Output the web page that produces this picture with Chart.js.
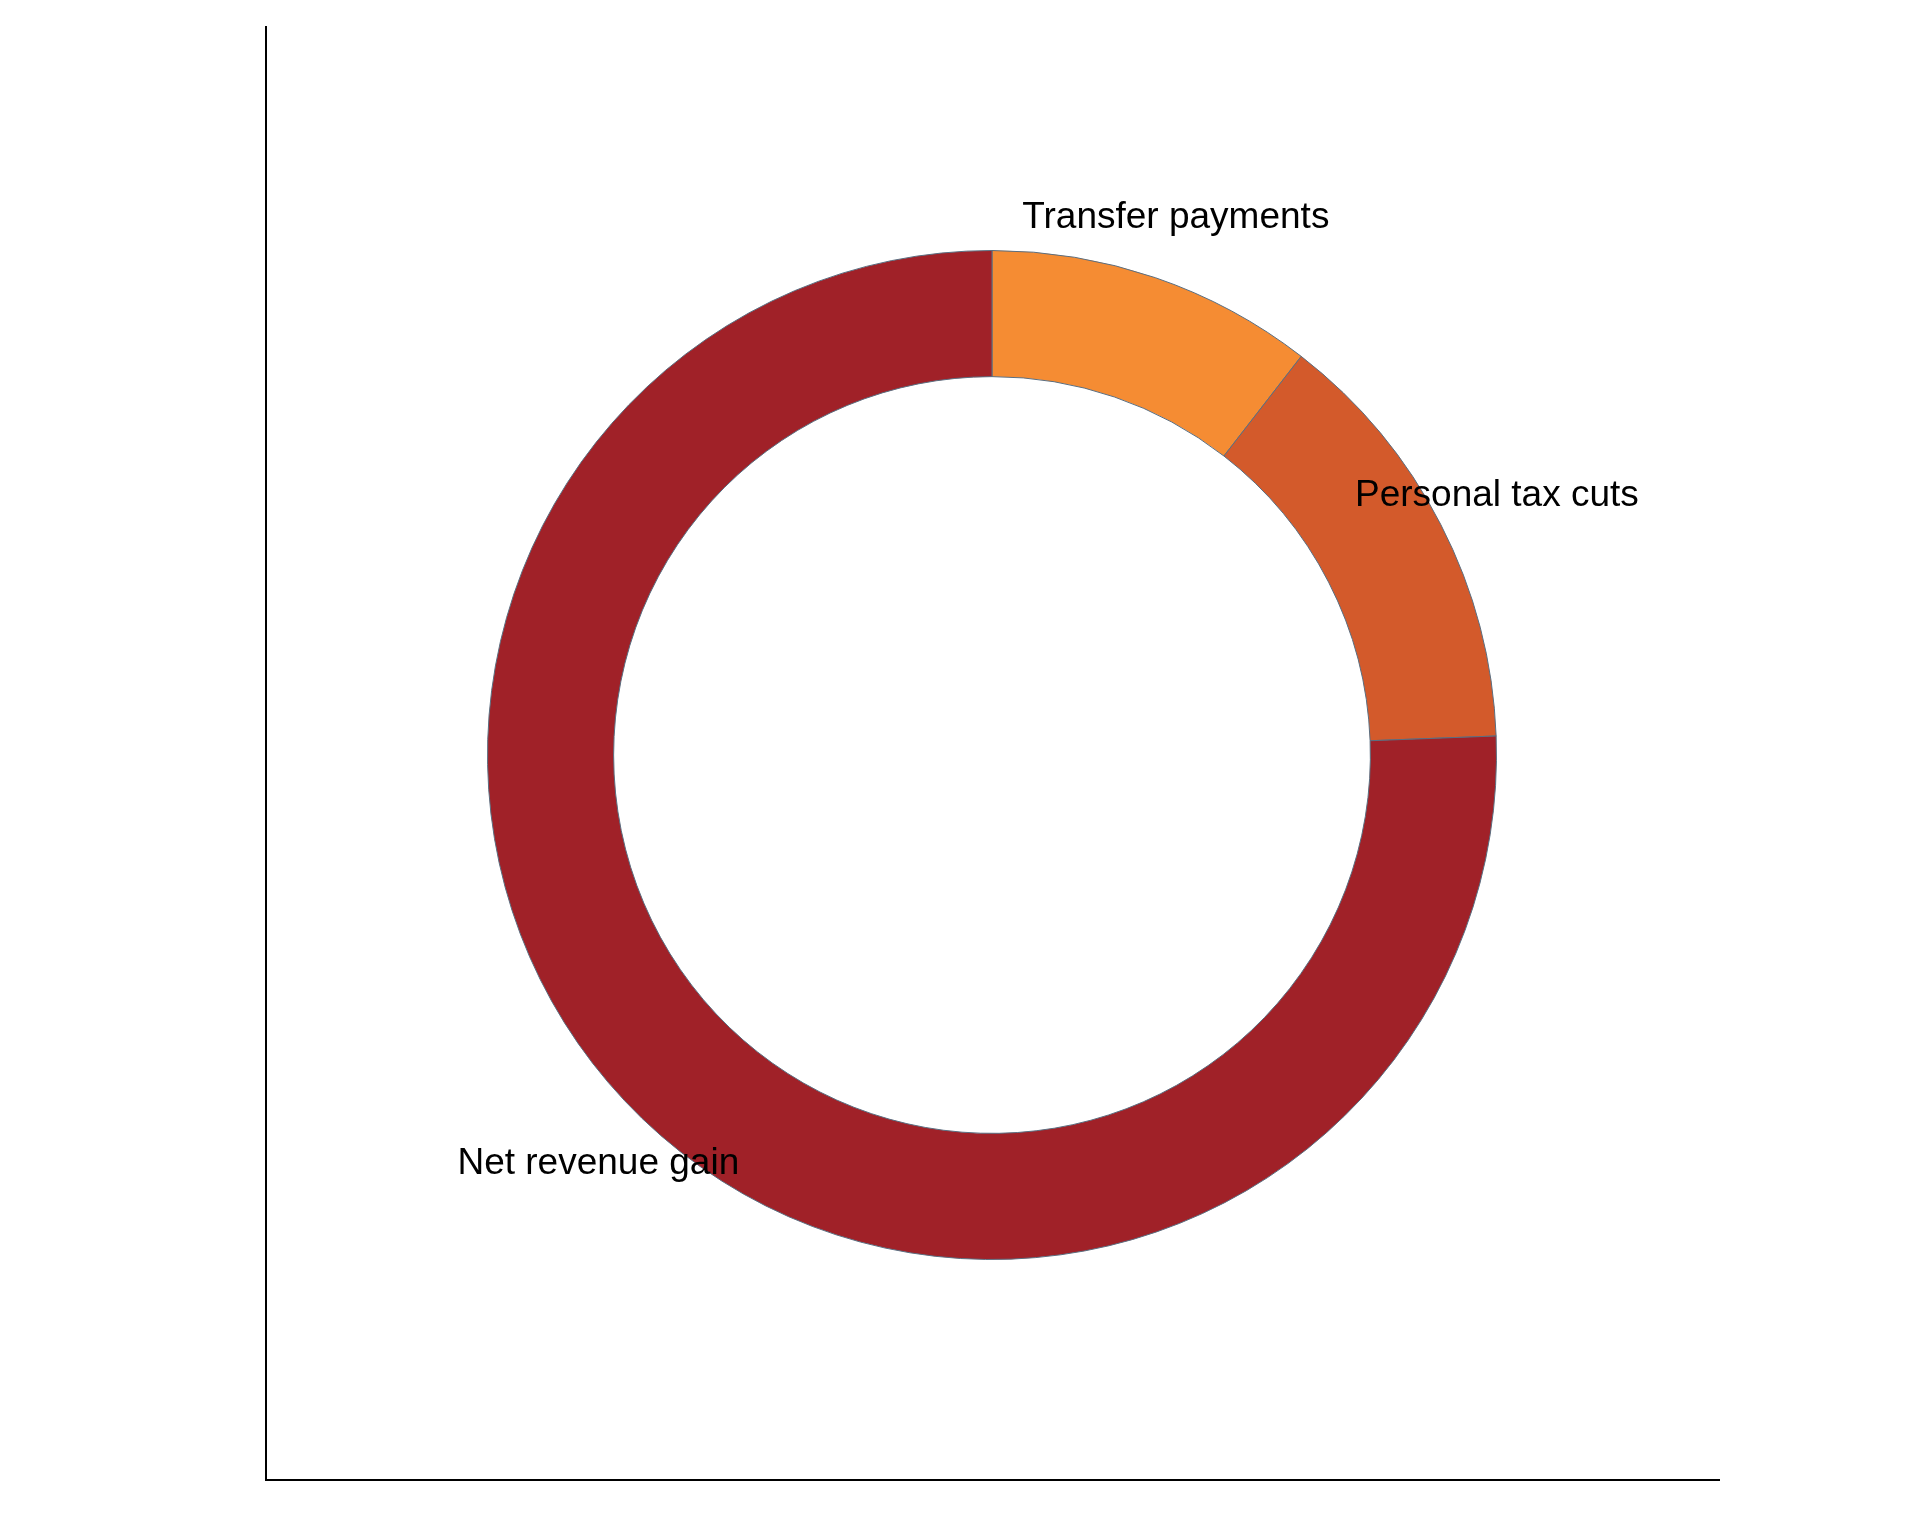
<!DOCTYPE html>
<html>
<head>
<meta charset="utf-8">
<script src="https://cdn.jsdelivr.net/npm/chart.js@4"></script>
<style>
  html, body { margin: 0; padding: 0; background: #fff; }
  #wrap { width: 1920px; height: 1536px; }
</style>
</head>
<body>
<div id="wrap"><canvas id="donutChart"></canvas></div>
<script>
const categories = ['Transfer payments', 'Personal tax cuts', 'Net revenue gain'];
const values = [10.5, 13.9, 75.6];
const colors = ['#F58C33', '#D35A2B', '#A02128'];

// axis frame + slice labels, drawn after the arcs
const framePlugin = {
  id: 'frame',
  afterDraw(chart) {
    const ctx = chart.ctx;
    ctx.save();
    ctx.strokeStyle = '#000';
    ctx.lineWidth = 2;
    ctx.beginPath();
    ctx.moveTo(266, 26);
    ctx.lineTo(266, 1480);
    ctx.lineTo(1720, 1480);
    ctx.stroke();

    ctx.fillStyle = '#000';
    ctx.font = '37px Arial, "Liberation Sans", sans-serif';
    ctx.textAlign = 'center';
    ctx.textBaseline = 'middle';
    const arcs = chart.getDatasetMeta(0).data;
    arcs.forEach((arc, i) => {
      const mid = (arc.startAngle + arc.endAngle) / 2;
      const r = arc.outerRadius * 1.125;
      ctx.fillText(categories[i], arc.x + Math.cos(mid) * r, arc.y + Math.sin(mid) * r);
    });
    ctx.restore();
  }
};

new Chart(document.getElementById('donutChart'), {
  type: 'doughnut',
  data: {
    labels: categories,
    datasets: [{
      data: values,
      backgroundColor: colors,
      borderColor: '#5a6e80',
      borderWidth: 1
    }]
  },
  options: {
    responsive: true,
    maintainAspectRatio: false,
    animation: false,
    cutout: '75%',
    layout: { padding: { left: 487, right: 423, top: 250, bottom: 276 } },
    plugins: { legend: { display: false }, tooltip: { enabled: false } }
  },
  plugins: [framePlugin]
});
</script>
</body>
</html>
